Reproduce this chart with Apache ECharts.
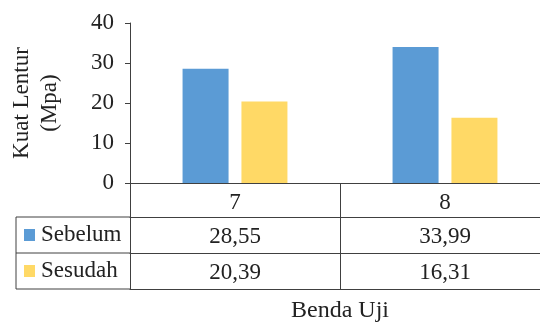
<!DOCTYPE html>
<html>
<head>
<meta charset="utf-8">
<script src="https://cdn.jsdelivr.net/npm/echarts@6/dist/echarts.min.js"></script>
<style>
  html, body { margin: 0; padding: 0; background: #fff; }
  #chart { width: 540px; height: 322px; }
</style>
</head>
<body>
<div id="chart"></div>
<script>
// Flexural strength per test specimen, before and after treatment
const categories = ['7', '8'];
const sebelum = [28.55, 33.99];
const sesudah = [20.39, 16.31];
const seriesNames = ['Sebelum', 'Sesudah'];
const yTicks = { min: 0, max: 40, interval: 10 };

const FONT = '"Liberation Serif", "DejaVu Serif", serif';
const TEXT = '#222222';
const LINE = '#404040';
const gridLeft = 130;
const gridTop = 23;
const gridBottom = 139;
const tableLeft = 16;
// vertical offsets of the data-table row lines below the zero line
const rowLines = [34, 70, 106];

const fmt = v => v.toFixed(2).replace('.', ',');

const tableAxis = (offset, labels, tickLen) => ({
  type: 'category',
  position: 'bottom',
  offset: offset,
  data: labels,
  boundaryGap: true,
  axisLine: { show: true, onZero: false, lineStyle: { color: LINE, width: 1 } },
  axisTick: { show: tickLen > 0, interval: 0, alignWithLabel: false, length: tickLen,
              lineStyle: { color: LINE, width: 1 } },
  axisLabel: { show: true, interval: 0, margin: 8, fontFamily: FONT, fontSize: 23,
               lineHeight: 23, color: TEXT },
  splitLine: { show: false }
});

const chart = echarts.init(document.getElementById('chart'), null, { renderer: 'canvas' });

const option = {
  animation: false,
  backgroundColor: '#ffffff',
  grid: { left: gridLeft, right: -10, top: gridTop, bottom: gridBottom,
          containLabel: false, outerBoundsMode: 'none' },
  legend: {
    data: seriesNames,
    orient: 'vertical',
    left: 24,
    top: 223,
    padding: 0,
    itemWidth: 11,
    itemHeight: 12,
    itemGap: 12,
    icon: 'rect',
    selectedMode: false,
    textStyle: { fontFamily: FONT, fontSize: 23, lineHeight: 24, color: TEXT, padding: [0, 0, 0, 1] }
  },
  xAxis: [
    tableAxis(0, categories, 34),
    tableAxis(34, sebelum.map(fmt), 36),
    tableAxis(70, sesudah.map(fmt), 36),
    Object.assign(tableAxis(106, ['', ''], 0), {
      axisLabel: { show: false },
      name: 'Benda Uji',
      nameLocation: 'middle',
      nameGap: 10,
      nameTextStyle: { fontFamily: FONT, fontSize: 24, color: TEXT }
    })
  ],
  yAxis: {
    type: 'value',
    min: yTicks.min,
    max: yTicks.max,
    interval: yTicks.interval,
    name: 'Kuat Lentur\n(Mpa)',
    nameLocation: 'middle',
    nameRotate: 90,
    nameGap: 66,
    nameTextStyle: { fontFamily: FONT, fontSize: 23, lineHeight: 28, color: TEXT },
    axisLine: { show: true, lineStyle: { color: LINE, width: 1 } },
    axisTick: { show: true, length: 5, lineStyle: { color: LINE, width: 1 } },
    axisLabel: { margin: 16, fontFamily: FONT, fontSize: 23, color: TEXT },
    splitLine: { show: false }
  },
  series: [
    { name: seriesNames[0], type: 'bar', data: sebelum, barWidth: 46, barGap: '28%',
      itemStyle: { color: '#5B9BD5' } },
    { name: seriesNames[1], type: 'bar', data: sesudah, barWidth: 46, barGap: '28%',
      itemStyle: { color: '#FFD966' } }
  ]
};

chart.setOption(option);

// Left part of the data table: row lines and outer border of the legend column
const y0 = chart.convertToPixel({ yAxisIndex: 0 }, 0);
const lineStyle = { stroke: LINE, lineWidth: 1 };
const edges = rowLines.map(off => ({
  type: 'line',
  shape: { x1: tableLeft, y1: y0 + off, x2: gridLeft, y2: y0 + off },
  style: lineStyle
}));
edges.push({
  type: 'line',
  shape: { x1: tableLeft, y1: y0 + rowLines[0], x2: tableLeft, y2: y0 + rowLines[2] },
  style: lineStyle
});
chart.setOption({ graphic: edges });
</script>
</body>
</html>
